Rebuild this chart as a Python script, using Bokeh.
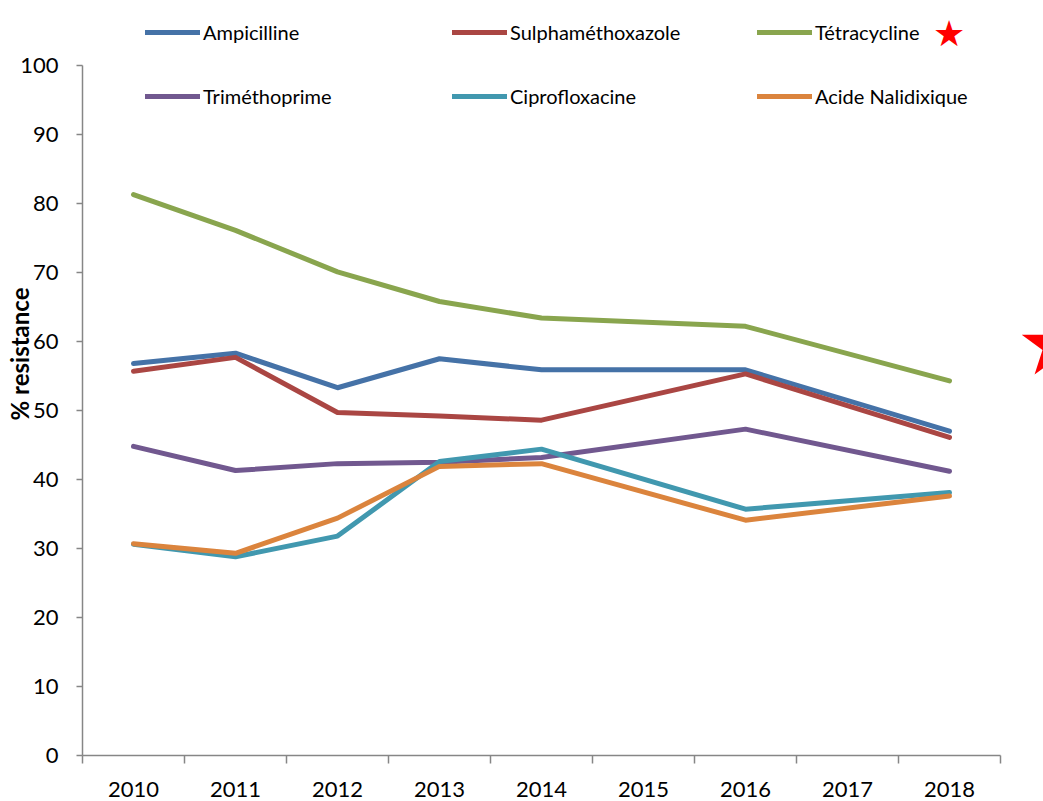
from bokeh.plotting import figure
from bokeh.models import FixedTicker, Legend, LegendItem, Range1d, Title
from bokeh.embed import file_html
from bokeh.resources import INLINE

# ---- data ----
years = [2010, 2011, 2012, 2013, 2014, 2016, 2018]
axis_years = [2010, 2011, 2012, 2013, 2014, 2015, 2016, 2017, 2018]
ampicilline = [56.8, 58.3, 53.3, 57.5, 55.9, 55.9, 47.0]
sulphamethoxazole = [55.7, 57.7, 49.7, 49.2, 48.6, 55.3, 46.1]
tetracycline = [81.3, 76.1, 70.1, 65.8, 63.4, 62.2, 54.3]
trimethoprime = [44.8, 41.3, 42.3, 42.5, 43.2, 47.3, 41.2]
ciprofloxacine = [30.6, 28.8, 31.8, 42.6, 44.4, 35.7, 38.1]
acide_nalidixique = [30.7, 29.3, 34.4, 41.9, 42.3, 34.1, 37.6]
y_ticks = [0, 10, 20, 30, 40, 50, 60, 70, 80, 90, 100]

series = [
    ("Ampicilline", ampicilline, "#4572A7"),
    ("Sulphaméthoxazole", sulphamethoxazole, "#AA4643"),
    ("Tétracycline", tetracycline, "#89A54E"),
    ("Triméthoprime", trimethoprime, "#71588F"),
    ("Ciprofloxacine", ciprofloxacine, "#4198AF"),
    ("Acide Nalidixique", acide_nalidixique, "#DB843D"),
]

FONT = "Lato"
AXIS_COLOR = "#868686"

# frame spans the whole area above/right of the axes so that legends are not clipped;
# the axis lines themselves are bounded to the data extent
Y_MIN, Y_MAX, Y_TOP = 0, 100, 100 + 65 / 6.9
X_MIN, X_MAX, X_RIGHT = 2009.5, 2018.5, 2018.5 + 43 / 102

p = figure(width=1043, height=801,
           x_range=Range1d(X_MIN, X_RIGHT), y_range=Range1d(Y_MIN, Y_TOP),
           output_backend="svg", toolbar_location=None,
           min_border_left=82, min_border_right=0,
           min_border_top=0, min_border_bottom=46)
p.outline_line_color = None
p.xgrid.visible = False
p.ygrid.visible = False
p.background_fill_color = "white"
p.border_fill_color = "white"

# x axis: labels at years, tick marks between categories
p.xaxis.ticker = FixedTicker(ticks=axis_years,
                             minor_ticks=[y - 0.5 for y in axis_years] + [axis_years[-1] + 0.5])
p.xaxis.bounds = (X_MIN, X_MAX)
p.xaxis.major_tick_out = 0
p.xaxis.major_tick_in = 0
p.xaxis.minor_tick_out = 8
p.xaxis.minor_tick_in = 0
p.xaxis.minor_tick_line_color = AXIS_COLOR
p.xaxis.minor_tick_line_width = 1.5
p.xaxis.major_label_standoff = 18

p.yaxis.ticker = FixedTicker(ticks=y_ticks, minor_ticks=[])
p.yaxis.bounds = (Y_MIN, Y_MAX)
p.yaxis.major_tick_out = 6
p.yaxis.major_tick_in = 0
p.yaxis.minor_tick_out = 0
p.yaxis.minor_tick_in = 0
p.yaxis.major_label_standoff = 18

for ax in (p.xaxis, p.yaxis):
    ax.axis_line_color = AXIS_COLOR
    ax.axis_line_width = 1.5
    ax.major_tick_line_color = AXIS_COLOR
    ax.major_tick_line_width = 1.5
    ax.major_label_text_font = FONT
    ax.major_label_text_font_size = "22px"
    ax.major_label_text_color = "black"

renderers = []
for name, vals, color in series:
    r = p.line(years, vals, line_color=color, line_width=5,
               line_join="round", line_cap="round")
    renderers.append((name, r))

# legends: 3 columns x 2 rows above the plot (location = bottom-left, frame relative)
frame_bottom_page = 755
frame_left_page = 82
col_x = [145, 452, 757]
row_center = [34, 98]
for i, (name, r) in enumerate(renderers):
    cx = col_x[i % 3] - frame_left_page
    cy = frame_bottom_page - (row_center[i // 3] + 10)
    lg = Legend(items=[LegendItem(label=name, renderers=[r])],
                location=(cx, cy), orientation="vertical",
                glyph_width=55, glyph_height=20, label_height=20,
                label_standoff=3, padding=0, margin=0, spacing=0,
                border_line_alpha=0, background_fill_alpha=0,
                label_text_font=FONT, label_text_font_size="20px",
                label_text_color="black")
    p.add_layout(lg)

# red star marks (text symbols)
dummy = p.scatter(x=[], y=[], size=1, alpha=0)
for (sx, sy, fs) in [(933, 36, 36), (1016, 351, 88)]:
    lg = Legend(items=[LegendItem(label="★", renderers=[dummy])],
                location=(sx - frame_left_page, frame_bottom_page - (sy + fs // 2)),
                glyph_width=0, glyph_height=fs, label_height=fs,
                label_standoff=0, padding=0, margin=0, spacing=0,
                border_line_alpha=0, background_fill_alpha=0,
                label_text_font="DejaVu Sans", label_text_font_size=f"{fs}px",
                label_text_color="red")
    p.add_layout(lg)

# y axis title
p.add_layout(Title(text="% resistance", align="right", offset=287, standoff=-33,
                   text_font=FONT, text_font_style="bold",
                   text_font_size="24px", text_color="black"), "left")

open("out.html", "w").write(file_html(p, INLINE))
